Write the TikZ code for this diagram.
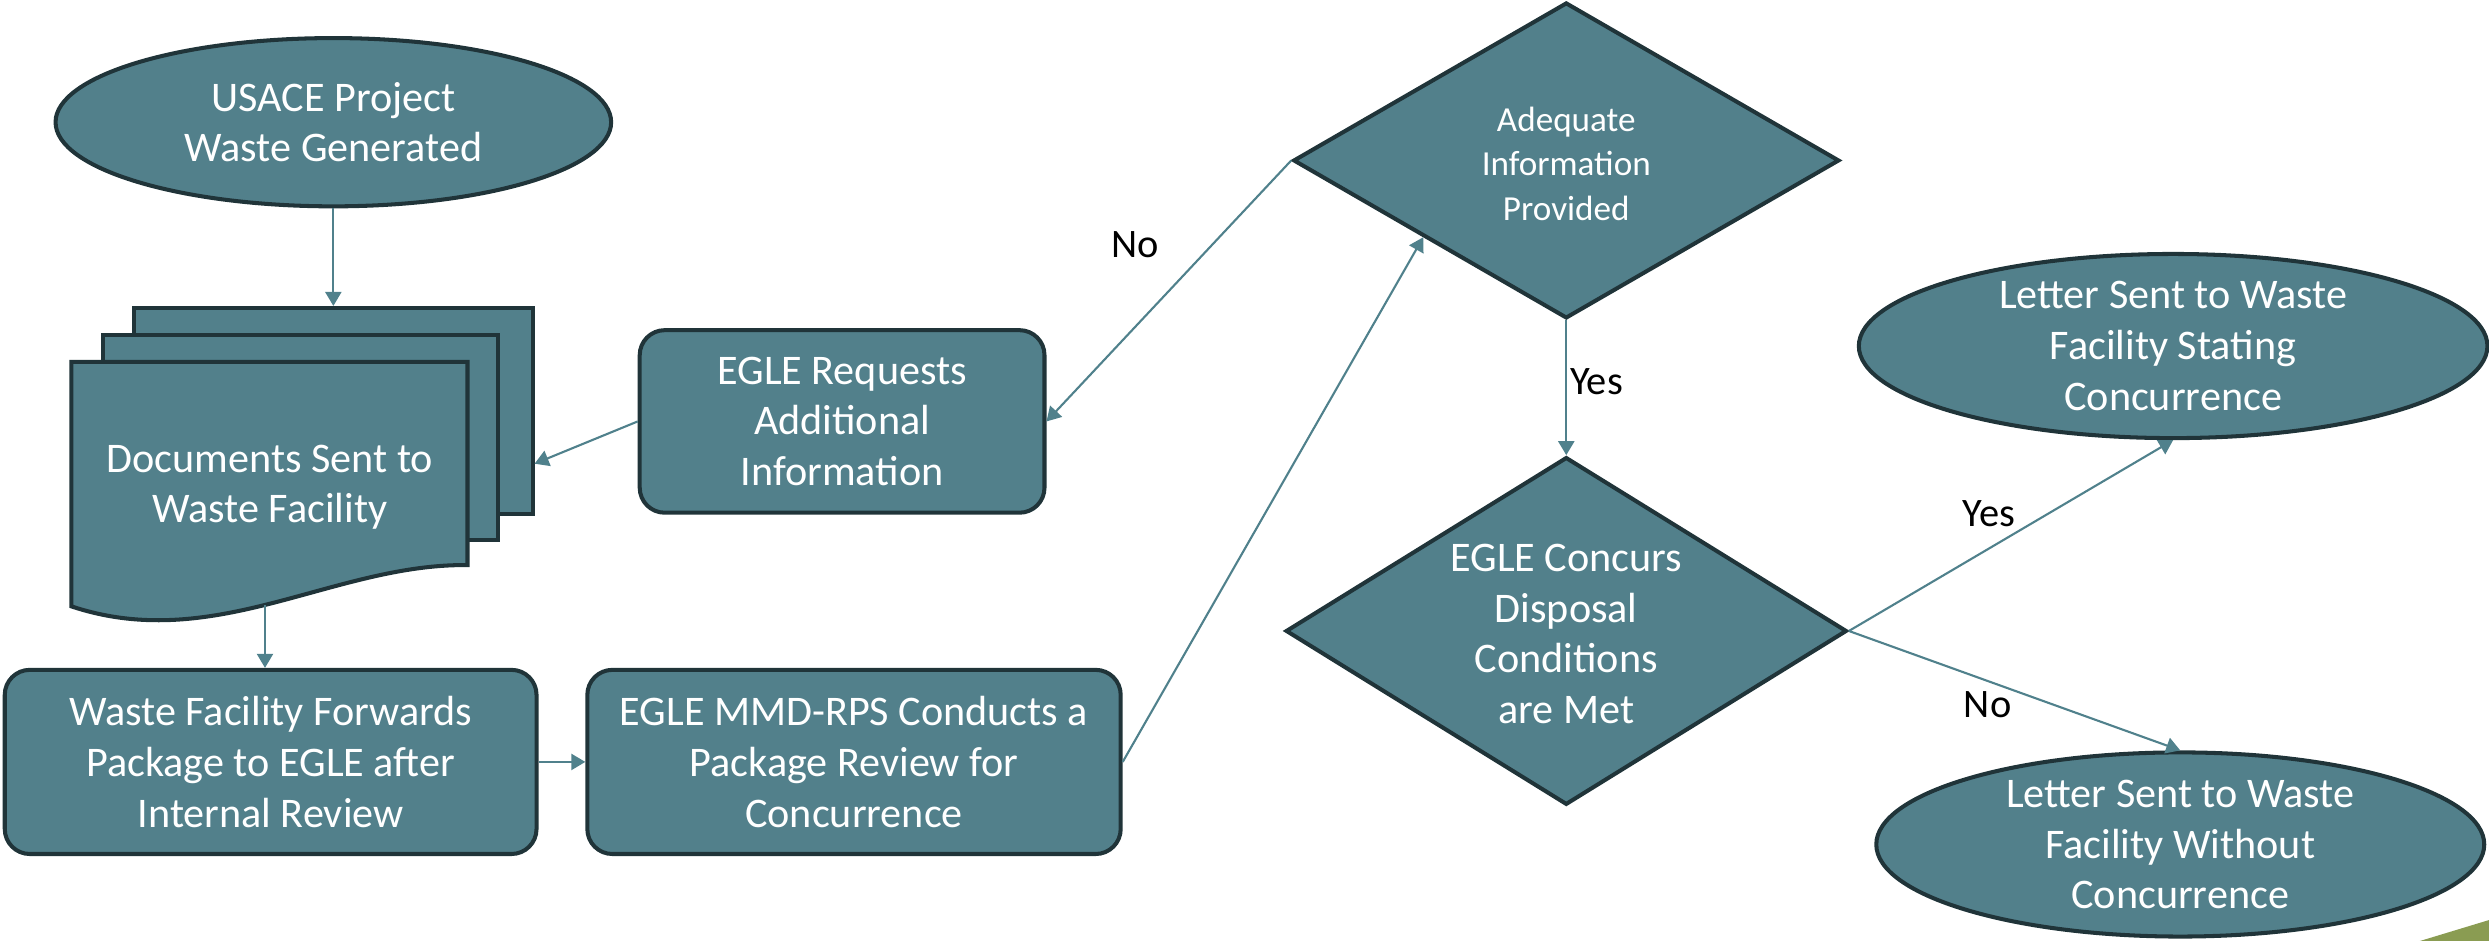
\documentclass[tikz,border=0pt]{standalone}
\usepackage{fontspec}
\setmainfont{Carlito}
\usetikzlibrary{shapes.geometric,arrows.meta,calc}

\definecolor{flowfill}{RGB}{82,128,139}
\definecolor{flowedge}{RGB}{32,52,57}
\definecolor{flowlink}{RGB}{80,129,140}
\definecolor{cornergreen}{RGB}{138,156,82}
\newlength{\ux}
\setlength{\ux}{0.15874mm}

\tikzset{
  flow/.style={fill=flowfill, draw=flowedge, line width=1.15pt, text=white,
    align=center, inner sep=0pt, font=\fontsize{12}{14.4}\selectfont},
  intext/.style={text=white, align=center, inner sep=0pt,
    font=\fontsize{12}{14.4}\selectfont},
  procbox/.style={flow, rectangle, rounded corners=2.5mm},
  termin/.style={flow, ellipse},
  decide/.style={flow, diamond},
  page/.style={flow, rectangle},
  link/.style={draw=flowlink, line width=0.6pt, -{Triangle[length=4pt,width=4.6pt]}},
  answer/.style={font=\fontsize{11.5}{13}\selectfont, inner sep=0pt}
}

\begin{document}
\begin{tikzpicture}[x=\ux, y=-\ux]
  \useasboundingbox (0,0) rectangle (1568,592.8) ;
  \fill[cornergreen] (1524.5,592.8) -- (1568,579.6) -- (1568,592.8) -- cycle ;

  \node[termin, minimum width=350*\ux, minimum height=106*\ux, %
    label={[intext]center:{USACE Project\\Waste Generated}}] (usace) at (210,77) {} ;

  \node[page, minimum width=251*\ux, minimum height=130*\ux] (pg3) at (210,259) {} ;
  \node[page, minimum width=249*\ux, minimum height=129*\ux] (pg2) at (189.5,275.5) {} ;
  \draw[flow] (45,228) -- (294.5,228) -- (294.5,356) %
    .. controls (210,355) and (135,412) .. (45,382) coordinate[pos=.52] (docbot) -- cycle ;
  \node[intext] (docs) at (170,307) {Documents Sent to\\Waste Facility} ;

  \node[procbox, minimum width=335*\ux, minimum height=116*\ux] (fwd) at (170.5,480) %
    {Waste Facility Forwards\\Package to EGLE after\\Internal Review} ;
  \node[procbox, minimum width=336*\ux, minimum height=116*\ux] (pkg) at (538,480) %
    {EGLE MMD-RPS Conducts a\\Package Review for\\Concurrence} ;
  \node[procbox, minimum width=255*\ux, minimum height=115*\ux] (req) at (530.5,265.5) %
    {EGLE Requests\\Additional\\Information} ;

  \node[decide, minimum width=344*\ux, minimum height=199*\ux, %
    label={[intext, font=\fontsize{10}{12.6}\selectfont, yshift=-2*\ux]center:{Adequate\\Information\\Provided}}] %
    (info) at (986.7,101.1) {} ;
  \node[decide, minimum width=353.5*\ux, minimum height=219*\ux, %
    label={[intext, yshift=-2*\ux]center:{EGLE Concurs\\Disposal\\Conditions\\are Met}}] %
    (concur) at (986.7,397.5) {} ;

  \node[termin, minimum width=396*\ux, minimum height=116*\ux, %
    label={[intext]center:{Letter Sent to Waste\\Facility Stating\\Concurrence}}] (yesltr) at (1369,218) {} ;
  \node[termin, minimum width=383*\ux, minimum height=116*\ux, %
    label={[intext]center:{Letter Sent to Waste\\Facility Without\\Concurrence}}] (noltr) at (1373.5,532) {} ;

  \draw[link] (usace.south) -- (pg3.north) ;
  \draw[link] (docbot) -- (docbot |- fwd.north) ;
  \draw[link] (fwd) -- (pkg) ;
  \draw[link] (pkg.east) -- ($(info.west)!.48!(info.south)$) ;
  \draw[link] (info.west) -- (req.east) %
    node[answer, pos=.5, xshift=-21*\ux, yshift=29*\ux] {No} ;
  \draw[link] (req.west) -- ($(pg3.south east)!.25!(pg3.north east)$) ;
  \draw[link] (info.south) -- (concur.north) %
    node[answer, pos=.5, xshift=19*\ux, yshift=4*\ux] {Yes} ;
  \draw[link] (concur.east) -- (yesltr.south) %
    node[answer, pos=.5, xshift=-14*\ux, yshift=14*\ux] {Yes} ;
  \draw[link] (concur.east) -- (noltr.north) %
    node[answer, pos=.5, xshift=-17*\ux, yshift=-8.5*\ux] {No} ;
\end{tikzpicture}
\end{document}
